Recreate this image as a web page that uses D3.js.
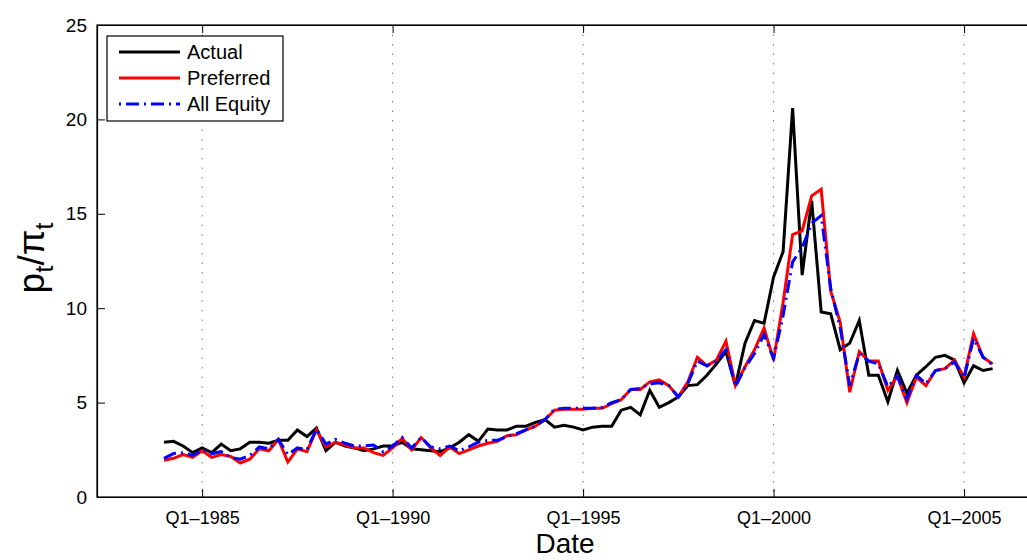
<!DOCTYPE html>
<html>
<head>
<meta charset="utf-8">
<script src="https://cdn.jsdelivr.net/npm/d3@7"></script>
<style>
  body { margin: 0; background: #fff; }
  svg { font-family: "Liberation Sans", Arial, sans-serif; }
</style>
</head>
<body>
<svg id="chart" width="1027" height="560"></svg>
<script>
// quarterly observations, first one is Q1-1984
const startYear = 1984;
const actual = [
  2.9, 2.95, 2.7, 2.35, 2.6, 2.35, 2.8, 2.45,
  2.55, 2.9, 2.9, 2.85, 3.0, 3.0, 3.55, 3.2,
  3.65, 2.45, 2.9, 2.7, 2.6, 2.45, 2.55, 2.7,
  2.7, 2.9, 2.55, 2.5, 2.45, 2.4, 2.6, 2.9,
  3.3, 2.95, 3.6, 3.55, 3.55, 3.75, 3.75, 3.95,
  4.1, 3.7, 3.8, 3.7, 3.55, 3.7, 3.75, 3.75,
  4.6, 4.75, 4.35, 5.65, 4.75, 5.0, 5.3, 5.9,
  5.95, 6.45, 7.05, 7.7, 5.9, 8.15, 9.35, 9.2,
  11.65, 13.0, 20.6, 11.75, 15.7, 9.8, 9.7, 7.8,
  8.15, 9.35, 6.45, 6.45, 5.05, 6.7, 5.5, 6.45,
  6.9, 7.4, 7.5, 7.25, 6.05, 6.95, 6.7, 6.8
];
const preferred = [
  1.95, 2.05, 2.25, 2.1, 2.45, 2.1, 2.25, 2.15,
  1.8, 2.0, 2.55, 2.45, 3.05, 1.85, 2.55, 2.4,
  3.55, 2.65, 2.9, 2.75, 2.6, 2.6, 2.35, 2.2,
  2.6, 3.1, 2.5, 3.15, 2.6, 2.2, 2.65, 2.3,
  2.5, 2.7, 2.85, 2.95, 3.25, 3.3, 3.55, 3.75,
  4.1, 4.6, 4.65, 4.65, 4.65, 4.7, 4.7, 4.95,
  5.15, 5.7, 5.7, 6.1, 6.2, 5.9, 5.3, 6.1,
  7.4, 6.95, 7.25, 8.25, 5.9, 6.9, 7.8, 8.95,
  7.25, 10.3, 13.9, 14.1, 15.95, 16.3, 10.9, 9.25,
  5.55, 7.7, 7.2, 7.2, 5.65, 6.4, 5.0, 6.35,
  5.9, 6.7, 6.8, 7.25, 6.35, 8.65, 7.4, 7.05
];
const allEquity = [
  2.05, 2.3, 2.35, 2.2, 2.5, 2.3, 2.4, 2.1,
  2.0, 2.2, 2.65, 2.55, 3.05, 2.25, 2.6, 2.5,
  3.6, 2.8, 3.05, 2.85, 2.7, 2.7, 2.75, 2.4,
  2.7, 3.15, 2.6, 3.15, 2.65, 2.55, 2.7, 2.45,
  2.65, 2.9, 3.0, 3.0, 3.2, 3.35, 3.55, 3.75,
  4.1, 4.65, 4.7, 4.7, 4.7, 4.7, 4.75, 5.0,
  5.15, 5.7, 5.75, 6.0, 6.05, 5.9, 5.3, 6.0,
  7.2, 6.95, 7.2, 7.8, 5.85, 6.85, 7.6, 8.6,
  7.35, 9.6, 12.45, 13.2, 14.5, 14.9, 11.05, 8.95,
  5.9, 7.6, 7.2, 7.05, 5.85, 6.4, 5.2, 6.45,
  6.0, 6.7, 6.8, 7.15, 6.3, 8.4, 7.4, 7.0
];
const xTicks = [1985, 1990, 1995, 2000, 2005];
const yTicks = [0, 5, 10, 15, 20, 25];
const seriesNames = ['Actual', 'Preferred', 'All Equity'];
const seriesColors = ['#000000', '#ff0000', '#0000ff'];

const svg = d3.select('#chart');
const margin = { left: 97, top: 25, right: 1033, bottom: 497 };

const x = d3.scaleLinear().domain([1982.24, 2006.81]).range([margin.left, margin.right]);
const y = d3.scaleLinear().domain([0, 25]).range([margin.bottom, margin.top]);

// dotted vertical grid
svg.append('g')
  .selectAll('line')
  .data(xTicks)
  .enter()
  .append('line')
  .attr('x1', d => x(d)).attr('x2', d => x(d))
  .attr('y1', margin.top).attr('y2', margin.bottom)
  .attr('stroke', '#777')
  .attr('stroke-width', 1)
  .attr('stroke-dasharray', '1.5,8');

// axes, ticks pointing inward like matlab
const xAxis = d3.axisBottom(x).tickValues(xTicks).tickSizeInner(-8).tickSizeOuter(0)
  .tickFormat(d => 'Q1\u2013' + d);
const xAxisTop = d3.axisTop(x).tickValues(xTicks).tickSizeInner(-8).tickSizeOuter(0).tickFormat('');
const yAxis = d3.axisLeft(y).tickValues(yTicks).tickSizeInner(-8).tickSizeOuter(0);

const gx = svg.append('g').attr('transform', `translate(0,${margin.bottom})`).call(xAxis);
gx.selectAll('text').attr('dy', null).attr('y', 27).style('font-size', '18px').attr('fill', '#000');
svg.append('g').attr('transform', `translate(0,${margin.top})`).call(xAxisTop);
const gy = svg.append('g').attr('transform', `translate(${margin.left},0)`).call(yAxis);
gy.selectAll('text').attr('x', -10).style('font-size', '19px').attr('fill', '#000');
svg.selectAll('.domain').attr('stroke', '#000').attr('stroke-width', 1.2);
svg.selectAll('.tick line').attr('stroke', '#000');

// box
svg.append('rect')
  .attr('x', margin.left).attr('y', margin.top)
  .attr('width', margin.right - margin.left).attr('height', margin.bottom - margin.top)
  .attr('fill', 'none').attr('stroke', '#000').attr('stroke-width', 1.2);

// lines
const line = d3.line()
  .x((d, i) => x(startYear + i / 4))
  .y(d => y(d));

const dashes = [null, null, '13,5,2,5'];
[actual, preferred, allEquity].forEach((vals, k) => {
  svg.append('path')
    .datum(vals)
    .attr('d', line)
    .attr('fill', 'none')
    .attr('stroke', seriesColors[k])
    .attr('stroke-width', 3)
    .attr('stroke-linejoin', 'miter')
    .attr('stroke-dasharray', dashes[k]);
});

// axis labels
svg.append('text')
  .attr('x', (margin.left + margin.right) / 2)
  .attr('y', 553)
  .attr('text-anchor', 'middle')
  .style('font-size', '28px')
  .text('Date');

const ylab = svg.append('text')
  .attr('transform', 'translate(44,258) rotate(-90)')
  .attr('text-anchor', 'middle')
  .style('font-size', '37px');
ylab.append('tspan').text('p');
ylab.append('tspan').attr('dy', 9).style('font-size', '26px').text('t');
ylab.append('tspan').attr('dy', -9).text('/\u03c0');
ylab.append('tspan').attr('dy', 9).style('font-size', '26px').text('t');

// legend
const lg = svg.append('g').attr('transform', 'translate(107,36)');
lg.append('rect')
  .attr('width', 176).attr('height', 85)
  .attr('fill', '#fff').attr('stroke', '#000').attr('stroke-width', 1.2);
seriesNames.forEach((name, k) => {
  const yy = 16 + k * 26;
  lg.append('line')
    .attr('x1', 12).attr('x2', 73).attr('y1', yy).attr('y2', yy)
    .attr('stroke', seriesColors[k]).attr('stroke-width', 3)
    .attr('stroke-dasharray', k === 2 ? '2,5,13,5' : null);
  lg.append('text')
    .attr('x', 80).attr('y', yy + 7)
    .style('font-size', '20px')
    .text(name);
});
</script>
</body>
</html>
